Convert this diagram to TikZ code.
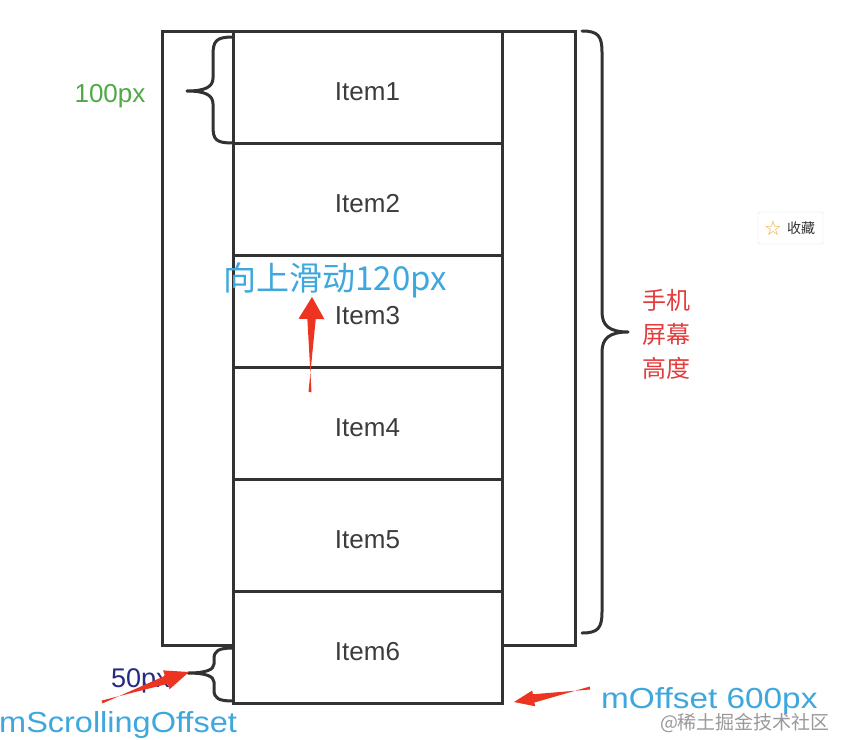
\documentclass[tikz,border=0pt]{standalone}
\usepackage{fontspec}
\setmainfont{Liberation Sans}
\newfontfamily\cjk{Noto Sans CJK SC}
\newfontfamily\symf{DejaVu Sans}
\usetikzlibrary{calc}
\definecolor{linec}{RGB}{50,50,50}
\definecolor{itemc}{RGB}{60,60,60}
\definecolor{bluet}{RGB}{62,168,222}
\definecolor{greent}{RGB}{80,168,70}
\definecolor{redt}{RGB}{228,60,60}
\definecolor{arrowred}{RGB}{236,52,32}
\definecolor{navyt}{RGB}{38,42,132}
\definecolor{starc}{RGB}{240,170,40}
\newcommand\redarrow[4]{% tail, tip, head length, head half width
  \coordinate (rh) at ($(#2)!#3!(#1)$);
  \fill[arrowred] ($(#1)!1.5pt!90:(#2)$) -- ($(rh)!4.2pt!-90:(#2)$) -- ($(rh)!#4!-90:(#2)$) -- (#2)
    -- ($(rh)!#4!90:(#2)$) -- ($(rh)!4.2pt!90:(#2)$) -- ($(#1)!1.5pt!-90:(#2)$) -- cycle;}
\tikzset{
  box/.style={draw=linec, line width=3pt, fill=white, inner sep=0pt, minimum width=269pt, minimum height=112pt},
  screen/.style={draw=linec, line width=3pt, inner sep=0pt, minimum width=413pt, minimum height=614pt},
  bracec/.style={draw=linec, line width=3pt, line cap=round, line join=round},
  itemtext/.style={text=itemc, font=\fontsize{26}{30}\selectfont, inner sep=0pt},
}
\begin{document}
\begin{tikzpicture}[x=1pt,y=-1pt]
\fill[white] (0,0) rectangle (846,739);
\useasboundingbox (0,0) rectangle (846,739);
% phone screen
\node[screen] (scr) at (368.5,338) {};
% items
\foreach \i/\y in {1/87,2/199,3/311,4/423,5/535,6/647}{
  \node[box] (i\i) at (367.5,\y) {};
  \node[itemtext] (t\i) at ($(i\i.center)+(0,5)$) {Item\i};
}
% braces
\draw[bracec] (233,37) .. controls (216,37) and (213,41) .. (213,55) -- (213,78)
  .. controls (213,87) and (205,91) .. (187,91)
  .. controls (205,91) and (213,95) .. (213,104) -- (213,126)
  .. controls (213,140) and (216,143) .. (233,143);
\draw[bracec] (582,31) .. controls (598,31) and (602,36) .. (602,52) -- (602,312)
  .. controls (602,326) and (610,332) .. (628,332)
  .. controls (610,332) and (602,338) .. (602,352) -- (602,612)
  .. controls (602,628) and (598,633) .. (582,633);
\draw[bracec] (233,648) .. controls (218,648) and (214,651) .. (214,659) -- (214,664)
  .. controls (214,670) and (205,673) .. (188,673)
  .. controls (205,673) and (214,676) .. (214,682) -- (214,690)
  .. controls (214,698) and (218,701) .. (233,701);
% labels
\node[text=greent, font=\fontsize{26}{30}\selectfont, inner sep=0pt] (l100) at (110,96) {100px};
\node[text=redt, font=\cjk\fontsize{24}{28}\selectfont, inner sep=0pt] (h1) at (666,300) {手机};
\node[text=redt, font=\cjk\fontsize{24}{28}\selectfont, inner sep=0pt] (h2) at (666,334) {屏幕};
\node[text=redt, font=\cjk\fontsize{24}{28}\selectfont, inner sep=0pt] (h3) at (666,368) {高度};
\node[text=navyt, font=\fontsize{27}{30}\selectfont, inner sep=0pt, anchor=base west] (l50) at (111,687) {50px};
\node[text=bluet, font=\cjk\fontsize{33}{36}\selectfont, inner sep=0pt] (up) at (335,280) {向上滑动120px};
\node[text=bluet, font=\fontsize{29}{32}\selectfont, inner sep=0pt, anchor=base west] (mso) at (-1,732) {\scalebox{1.12}[1]{mScrollingOffset}};
\node[text=bluet, font=\fontsize{29}{32}\selectfont, inner sep=0pt, anchor=base west] (mo) at (601,708) {\scalebox{1.15}[1]{mOffset 600px}};
\node[text=black!40, font=\cjk\fontsize{19}{22}\selectfont, inner sep=0pt] (wm) at (745,723) {@稀土掘金技术社区};
% favourite button
\node[draw=black!12, fill=white, rounded corners=1.5pt, minimum width=65pt, minimum height=32pt, inner sep=0pt] (fav) at (790.5,228) {};
\node[text=starc, font=\symf\fontsize{20}{22}\selectfont, inner sep=0pt] (star) at (773,228) {☆};
\node[text=black!80, font=\cjk\fontsize{14}{16}\selectfont, inner sep=0pt] (favt) at (801,228) {收藏};
% red arrows
\coordinate (a1t) at (310,392); \coordinate (a1h) at (312,297);
\redarrow{a1t}{a1h}{22pt}{13pt}
\coordinate (a2t) at (102,702); \coordinate (a2h) at (189,672);
\redarrow{a2t}{a2h}{24pt}{10pt}
\coordinate (a3t) at (590,688); \coordinate (a3h) at (514,702);
\redarrow{a3t}{a3h}{20pt}{8pt}
\end{tikzpicture}
\end{document}
